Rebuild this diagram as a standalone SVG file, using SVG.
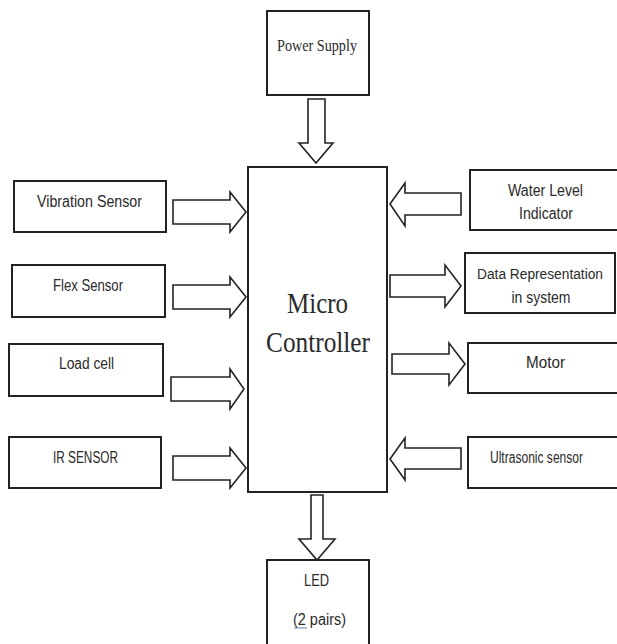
<svg xmlns="http://www.w3.org/2000/svg" width="617" height="644" viewBox="0 0 617 644">
<style>
.box{fill:#fff;stroke:#222;stroke-width:2}
.arr{fill:#fff;stroke:#222;stroke-width:1.6;stroke-linejoin:miter}
.s{font-family:"Liberation Sans",Arial,sans-serif;font-size:16px;fill:#2a2a2a;text-anchor:middle}
.t{font-family:"Liberation Serif","Times New Roman",serif;fill:#2a2a2a;text-anchor:middle}
</style>
<rect width="617" height="644" fill="#fff"/>
<g id="connectors">
<polygon class="arr" points="308,99 325,99 325,143 333,143 316,163 299,143 308,143"/>
<polygon class="arr" points="311,495 323,495 323,539 335,539 317,560 299,539 311,539"/>
<polygon class="arr" points="173,200 230,200 230,192 246,212 230,232 230,224 173,224"/>
<polygon class="arr" points="173,285 230,285 230,277 246,297 230,317 230,309 173,309"/>
<polygon class="arr" points="171,377 230,377 230,369 244,389 230,409 230,401 171,401"/>
<polygon class="arr" points="173,456 230,456 230,448 246,468 230,488 230,480 173,480"/>
<polygon class="arr" points="461,193 405,193 405,183 390,204 405,226 405,215 461,215"/>
<polygon class="arr" points="390,275 445,275 445,265 461,286 445,307 445,297 390,297"/>
<polygon class="arr" points="392,354 449,354 449,343 465,364 449,385 449,374 392,374"/>
<polygon class="arr" points="461,448 405,448 405,438 390,459 405,480 405,469 461,469"/>
</g>
<g id="power-supply">
<rect class="box" x="267" y="11" width="102" height="84"/>
<text class="t" x="317" y="51" font-size="17" textLength="80" lengthAdjust="spacingAndGlyphs">Power Supply</text>
</g>
<g id="micro-controller">
<rect class="box" x="248" y="167" width="139" height="325"/>
<text class="t" x="317.5" y="313" font-size="29" textLength="61" lengthAdjust="spacingAndGlyphs">Micro</text>
<text class="t" x="318" y="352" font-size="29" textLength="104" lengthAdjust="spacingAndGlyphs">Controller</text>
</g>
<g id="vibration-sensor">
<rect class="box" x="14" y="181" width="152" height="51"/>
<text class="s" x="89.5" y="207" textLength="105" lengthAdjust="spacingAndGlyphs">Vibration Sensor</text>
</g>
<g id="flex-sensor">
<rect class="box" x="12" y="265" width="153" height="52"/>
<text class="s" x="88" y="291" textLength="70" lengthAdjust="spacingAndGlyphs">Flex Sensor</text>
</g>
<g id="load-cell">
<rect class="box" x="9" y="344" width="154" height="52"/>
<text class="s" x="86.5" y="369" textLength="55" lengthAdjust="spacingAndGlyphs">Load cell</text>
</g>
<g id="ir-sensor">
<rect class="box" x="9" y="437" width="152" height="51"/>
<text class="s" x="85.5" y="463" textLength="65" lengthAdjust="spacingAndGlyphs">IR SENSOR</text>
</g>
<g id="water-level-indicator">
<rect class="box" x="470" y="170" width="160" height="60"/>
<text class="s" x="545.5" y="196" textLength="75" lengthAdjust="spacingAndGlyphs">Water Level</text>
<text class="s" x="546" y="219" textLength="54" lengthAdjust="spacingAndGlyphs">Indicator</text>
</g>
<g id="data-representation">
<rect class="box" x="465" y="253" width="150" height="60"/>
<text class="s" x="540" y="279" font-size="14" style="font-size:14px" textLength="126" lengthAdjust="spacingAndGlyphs">Data Representation</text>
<text class="s" x="541" y="303" textLength="59" lengthAdjust="spacingAndGlyphs">in system</text>
</g>
<g id="motor">
<rect class="box" x="468" y="343" width="160" height="50"/>
<text class="s" x="545.5" y="368" textLength="39" lengthAdjust="spacingAndGlyphs">Motor</text>
</g>
<g id="ultrasonic-sensor">
<rect class="box" x="468" y="437" width="160" height="51"/>
<text class="s" x="536.5" y="463" textLength="93" lengthAdjust="spacingAndGlyphs">Ultrasonic sensor</text>
</g>
<g id="led">
<rect class="box" x="267" y="560" width="102" height="90"/>
<text class="s" x="316.5" y="586" textLength="25" lengthAdjust="spacingAndGlyphs">LED</text>
<text class="s" x="319.5" y="625" textLength="53" lengthAdjust="spacingAndGlyphs">(2 pairs)</text>
<line x1="294" y1="628" x2="307" y2="628" stroke="#6a7bb0" stroke-width="1"/>
</g>
</svg>
